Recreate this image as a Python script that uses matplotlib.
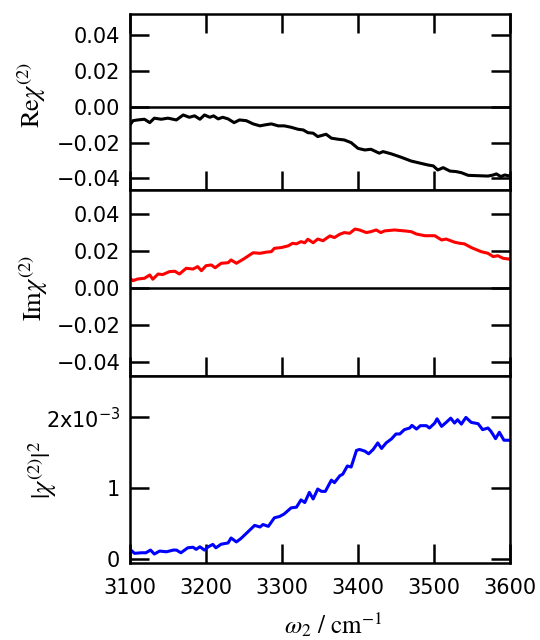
import matplotlib
matplotlib.use("Agg")
import matplotlib.pyplot as plt

# ---------------- data ----------------
re_w = [3100, 3104, 3110, 3119, 3126, 3132, 3141, 3150, 3161, 3170, 3178, 3185, 3192, 3198,
        3205, 3210, 3216, 3222, 3229, 3237, 3244, 3253, 3262, 3271, 3277, 3286, 3295, 3303,
        3312, 3321, 3328, 3334, 3341, 3347, 3358, 3365, 3374, 3382, 3391, 3400, 3409, 3417,
        3428, 3433, 3444, 3457, 3470, 3479, 3492, 3499, 3505, 3512, 3521, 3529, 3536, 3545,
        3558, 3571, 3578, 3582, 3588, 3593, 3600]
re_chi = [-0.0101, -0.0077, -0.0073, -0.0069, -0.0088, -0.0063, -0.0069, -0.0063, -0.0073,
          -0.0045, -0.0058, -0.0050, -0.0069, -0.0045, -0.0058, -0.0050, -0.0067, -0.0058,
          -0.0067, -0.0088, -0.0073, -0.0077, -0.0095, -0.0106, -0.0101, -0.0095, -0.0106,
          -0.0106, -0.0114, -0.0125, -0.0129, -0.0144, -0.0147, -0.0166, -0.0153, -0.0175,
          -0.0181, -0.0185, -0.0200, -0.0232, -0.0241, -0.0237, -0.0259, -0.0250, -0.0263,
          -0.0282, -0.0303, -0.0312, -0.0325, -0.0330, -0.0353, -0.0340, -0.0359, -0.0362,
          -0.0368, -0.0383, -0.0385, -0.0387, -0.0381, -0.0375, -0.0390, -0.0381, -0.0387]

im_w = [3100, 3104, 3110, 3119, 3126, 3130, 3137, 3143, 3152, 3159, 3165, 3174, 3183, 3189,
        3194, 3200, 3207, 3212, 3220, 3229, 3233, 3240, 3249, 3262, 3271, 3279, 3286, 3290,
        3299, 3308, 3314, 3319, 3325, 3330, 3334, 3341, 3347, 3354, 3363, 3369, 3376, 3382,
        3389, 3396, 3402, 3411, 3417, 3424, 3430, 3435, 3448, 3461, 3470, 3477, 3488, 3501,
        3510, 3516, 3527, 3534, 3540, 3549, 3562, 3571, 3578, 3584, 3591, 3600]
im_chi = [0.0054, 0.0041, 0.0050, 0.0054, 0.0072, 0.0049, 0.0077, 0.0074, 0.0090, 0.0092,
          0.0077, 0.0108, 0.0104, 0.0117, 0.0095, 0.0122, 0.0126, 0.0111, 0.0135, 0.0138,
          0.0153, 0.0135, 0.0157, 0.0192, 0.0189, 0.0195, 0.0198, 0.0216, 0.0220, 0.0229,
          0.0243, 0.0240, 0.0252, 0.0246, 0.0265, 0.0246, 0.0266, 0.0257, 0.0283, 0.0274,
          0.0292, 0.0301, 0.0297, 0.0320, 0.0315, 0.0301, 0.0306, 0.0315, 0.0301, 0.0310,
          0.0315, 0.0310, 0.0306, 0.0293, 0.0284, 0.0284, 0.0261, 0.0266, 0.0249, 0.0243,
          0.0240, 0.0220, 0.0198, 0.0189, 0.0171, 0.0176, 0.0162, 0.0157]

abs_w = [3100, 3106, 3115, 3121, 3127, 3132, 3139, 3148, 3157, 3161, 3167, 3176, 3183, 3187,
         3192, 3198, 3203, 3209, 3213, 3220, 3229, 3233, 3240, 3246, 3255, 3264, 3271, 3275,
         3282, 3290, 3297, 3303, 3312, 3319, 3325, 3330, 3336, 3341, 3347, 3352, 3357, 3365,
         3369, 3376, 3380, 3386, 3391, 3398, 3402, 3409, 3414, 3420, 3426, 3431, 3437, 3444,
         3450, 3455, 3461, 3468, 3471, 3477, 3482, 3490, 3494, 3501, 3504, 3510, 3516, 3522,
         3527, 3531, 3536, 3542, 3549, 3558, 3564, 3571, 3575, 3581, 3586, 3592, 3600]
abs_chi2_e3 = [0.14, 0.084, 0.092, 0.092, 0.13, 0.074, 0.116, 0.106, 0.13, 0.13, 0.092, 0.162,
               0.17, 0.14, 0.176, 0.13, 0.176, 0.21, 0.162, 0.213, 0.23, 0.30, 0.245, 0.293,
               0.385, 0.478, 0.455, 0.49, 0.464, 0.585, 0.604, 0.64, 0.725, 0.734, 0.837, 0.80,
               0.943, 0.85, 0.99, 0.957, 0.957, 1.116, 1.08, 1.176, 1.20, 1.315, 1.30, 1.534,
               1.548, 1.524, 1.487, 1.548, 1.64, 1.562, 1.64, 1.696, 1.766, 1.766, 1.827, 1.85,
               1.887, 1.835, 1.883, 1.883, 1.85, 1.92, 1.98, 1.873, 1.929, 1.989, 1.92, 1.967,
               1.905, 1.999, 1.929, 1.911, 1.827, 1.85, 1.803, 1.70, 1.79, 1.678, 1.678]

x_ticks = [3100, 3200, 3300, 3400, 3500, 3600]
chi_ticks = [-0.04, -0.02, 0.00, 0.02, 0.04]
chi_ticklabels = ['\u22120.04', '\u22120.02', '0.00', '0.02', '0.04']
abs_ticks = [0, 1, 2]
abs_ticklabels = ['0', '1', r'2x10$^{-3}$']

# ---------------- figure ----------------
fig = plt.figure(figsize=(5.4, 6.4), dpi=100)
L, W = 130 / 540, 380 / 540
ax1 = fig.add_axes([L, 1 - 190 / 640, W, 176 / 640])
ax2 = fig.add_axes([L, 1 - 376 / 640, W, 186 / 640])
ax3 = fig.add_axes([L, 1 - 562.7 / 640, W, 187.2 / 640])

lw_spine = 1.8
tick_fs = 15
line_w = 2.2
for ax in (ax1, ax2, ax3):
    for s in ax.spines.values():
        s.set_linewidth(lw_spine)
    ax.set_xlim(3100, 3600)
    ax.set_xticks(x_ticks)
    ax.tick_params(direction='in', length=13.5, width=lw_spine, labelsize=tick_fs,
                   left=True, right=True, bottom=True, top=False, pad=7)
    ax.tick_params(axis='x', pad=11)

ax1.tick_params(top=True)
for ax in (ax1, ax2):
    ax.tick_params(labelbottom=False)

ax1.plot(re_w, re_chi, color='black', lw=line_w)
ax1.axhline(0, color='black', lw=lw_spine)
ax1.set_ylim(-0.0465, 0.052)
ax1.set_yticks(chi_ticks)
ax1.set_yticklabels(chi_ticklabels)

ax2.plot(im_w, im_chi, color='#ff0000', lw=line_w)
ax2.axhline(0, color='black', lw=lw_spine)
ax2.set_ylim(-0.0474, 0.0531)
ax2.set_yticks(chi_ticks)
ax2.set_yticklabels(chi_ticklabels)

ax3.plot(abs_w, abs_chi2_e3, color='#0000ff', lw=line_w)
ax3.set_ylim(-0.048, 2.59)
ax3.set_yticks(abs_ticks)
ax3.set_yticklabels(abs_ticklabels, math_fontfamily='dejavusans')

lab_kw = dict(rotation=90, ha='center', va='center', family='STIXGeneral',
              fontsize=19, math_fontfamily='stix')
fig.text(32 / 540, 1 - 95 / 640, r'Re$\chi^{(2)}$', **lab_kw)
fig.text(34 / 540, 1 - 288 / 640, r'Im$\chi^{(2)}$', **lab_kw)
fig.text(43 / 540, 1 - 470 / 640, r'$|\chi^{(2)}|^{2}$', **lab_kw)
fig.text(333 / 540, 1 - 625 / 640, r'$\omega_{2}$ / cm$^{-1}$', ha='center', va='center',
         family='STIXGeneral', fontsize=18, math_fontfamily='stix')

fig.savefig('out.png', dpi=100)
